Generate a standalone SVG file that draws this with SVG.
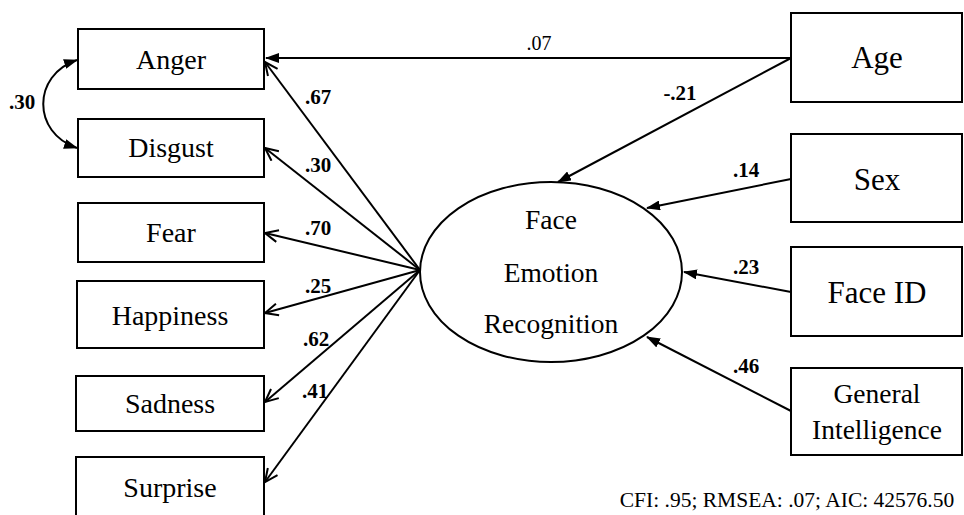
<svg xmlns="http://www.w3.org/2000/svg" width="964" height="515" viewBox="0 0 964 515">
<style>
.box{fill:#fff;stroke:#000;stroke-width:2}
.t{font-family:"Liberation Serif","Times New Roman",serif;fill:#000;text-anchor:middle}
.l{font-size:28px}
.r{font-size:31px}
.m{font-size:27.5px}
.w{font-family:"Liberation Serif","Times New Roman",serif;font-size:21px;font-weight:bold;fill:#000;text-anchor:middle}
.c{fill:none;stroke:#000;stroke-width:2}
</style>
<defs>
<marker id="af" markerWidth="14" markerHeight="10" refX="13" refY="5" orient="auto" markerUnits="userSpaceOnUse"><path d="M0,0 L14,5 L0,10 z" fill="#000"/></marker>
<marker id="ao" markerWidth="16" markerHeight="14" refX="14" refY="7" orient="auto" markerUnits="userSpaceOnUse"><path d="M1,1 L14,7 L1,13" fill="none" stroke="#000" stroke-width="2"/></marker>
<marker id="as" markerWidth="14" markerHeight="10" refX="13" refY="5" orient="auto-start-reverse" markerUnits="userSpaceOnUse"><path d="M0,0 L14,5 L0,10 z" fill="#000"/></marker>
</defs>
<rect width="964" height="515" fill="#fff"/>
<g id="connectors">
<line class="c" x1="791" y1="58" x2="266" y2="58" marker-end="url(#af)"/>
<line class="c" x1="791" y1="58" x2="558" y2="182" marker-end="url(#af)"/>
<line class="c" x1="791" y1="179" x2="647" y2="208" marker-end="url(#af)"/>
<line class="c" x1="791" y1="292" x2="684" y2="272" marker-end="url(#af)"/>
<line class="c" x1="791" y1="411" x2="647" y2="337" marker-end="url(#af)"/>
<line class="c" x1="420" y1="270" x2="265" y2="62" marker-end="url(#ao)"/>
<line class="c" x1="420" y1="270" x2="265" y2="148" marker-end="url(#ao)"/>
<line class="c" x1="420" y1="270" x2="265" y2="233" marker-end="url(#ao)"/>
<line class="c" x1="420" y1="270" x2="265" y2="313" marker-end="url(#ao)"/>
<line class="c" x1="420" y1="270" x2="265" y2="402" marker-end="url(#ao)"/>
<line class="c" x1="420" y1="270" x2="265" y2="482" marker-end="url(#ao)"/>
<path class="c" d="M77,60 C32,75 32,133 77,148" marker-start="url(#as)" marker-end="url(#as)"/>
<text class="t" x="539" y="50" font-size="20">.07</text>
<text class="w" x="680" y="100">-.21</text>
<text class="w" x="746" y="177">.14</text>
<text class="w" x="746" y="274">.23</text>
<text class="w" x="746" y="373">.46</text>
<text class="w" x="318" y="104">.67</text>
<text class="w" x="318" y="172">.30</text>
<text class="w" x="318" y="235">.70</text>
<text class="w" x="318" y="293">.25</text>
<text class="w" x="316" y="346">.62</text>
<text class="w" x="315" y="398">.41</text>
<text class="w" x="22" y="109">.30</text>
</g>
<g id="anger"><rect class="box" x="78" y="29" width="186" height="60"/><text class="t l" x="171" y="69">Anger</text></g>
<g id="disgust"><rect class="box" x="78" y="119" width="186" height="58"/><text class="t l" x="171" y="157">Disgust</text></g>
<g id="fear"><rect class="box" x="78" y="203" width="186" height="59"/><text class="t l" x="171" y="242">Fear</text></g>
<g id="happiness"><rect class="box" x="77" y="281" width="187" height="67"/><text class="t l" x="170" y="325">Happiness</text></g>
<g id="sadness"><rect class="box" x="76" y="376" width="188" height="55"/><text class="t l" x="170" y="413">Sadness</text></g>
<g id="surprise"><rect class="box" x="76" y="457" width="188" height="66"/><text class="t l" x="170" y="497">Surprise</text></g>
<g id="fer"><ellipse cx="551" cy="272" rx="131" ry="90" fill="#fff" stroke="#000" stroke-width="2"/>
<text class="t m" x="551" y="229">Face</text><text class="t m" x="551" y="282">Emotion</text><text class="t m" x="551" y="333">Recognition</text></g>
<g id="age"><rect class="box" x="791" y="13" width="171" height="89"/><text class="t r" x="877" y="68">Age</text></g>
<g id="sex"><rect class="box" x="791" y="134" width="171" height="88"/><text class="t r" x="877" y="190">Sex</text></g>
<g id="faceid"><rect class="box" x="791" y="247" width="171" height="89"/><text class="t r" x="877" y="303">Face ID</text></g>
<g id="gi"><rect class="box" x="791" y="368" width="171" height="87"/><text class="t m" x="877" y="403">General</text><text class="t m" x="877" y="439">Intelligence</text></g>
<text class="t" x="787" y="507" font-size="21.5">CFI: .95; RMSEA: .07; AIC: 42576.50</text>
</svg>
